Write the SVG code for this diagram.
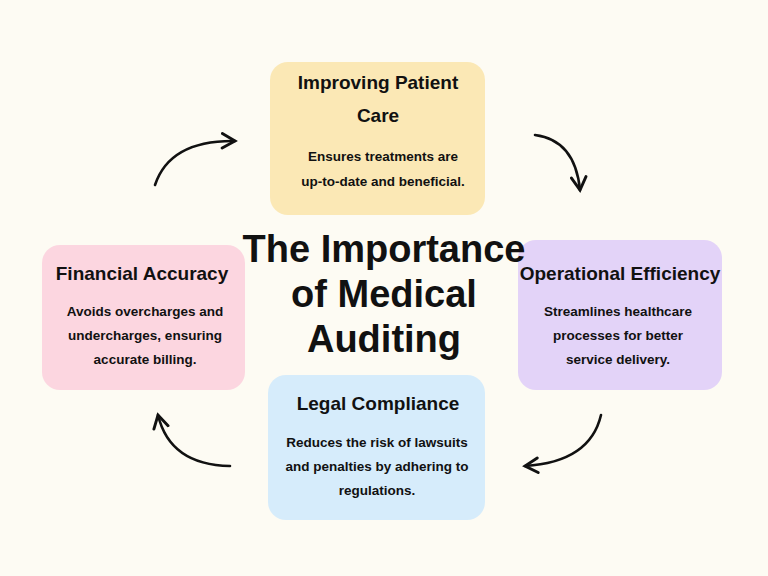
<svg xmlns="http://www.w3.org/2000/svg" width="768" height="576" viewBox="0 0 768 576">
<defs>
<marker id="ah" viewBox="0 0 10 10" refX="8" refY="5" markerWidth="7" markerHeight="7" orient="auto"><path d="M1,1 L8,5 L1,9" fill="none" stroke="#111" stroke-width="1.6" stroke-linecap="round"/></marker>
</defs>
<style>
text{font-family:"Liberation Sans",Arial,sans-serif;fill:#111;text-anchor:middle}
.h{font-size:19px;font-weight:bold}
.b{font-size:13.5px;font-weight:bold}
.t{font-size:38px;font-weight:bold}
.c{fill:none;stroke:#111;stroke-width:2.6;stroke-linecap:round}
</style>
<rect width="768" height="576" fill="#fdfbf3"/>
<g id="top"><rect x="270" y="62" width="215" height="153" rx="18" fill="#fbe8b5"/>
<text class="h" x="378" y="89">Improving Patient</text><text class="h" x="378" y="122">Care</text>
<text class="b" x="383" y="161">Ensures treatments are</text><text class="b" x="383" y="186">up-to-date and beneficial.</text></g>
<g id="left"><rect x="42" y="245" width="203" height="145" rx="18" fill="#fcd6e0"/>
<text class="h" x="142" y="280">Financial Accuracy</text>
<text class="b" x="145" y="316">Avoids overcharges and</text><text class="b" x="145" y="340">undercharges, ensuring</text><text class="b" x="145" y="364">accurate billing.</text></g>
<g id="right"><rect x="518" y="240" width="204" height="150" rx="18" fill="#e3d3f8"/>
<text class="h" x="620" y="280">Operational Efficiency</text>
<text class="b" x="618" y="316">Streamlines healthcare</text><text class="b" x="618" y="340">processes for better</text><text class="b" x="618" y="364">service delivery.</text></g>
<g id="bottom"><rect x="268" y="375" width="217" height="145" rx="18" fill="#d6ecfb"/>
<text class="h" x="378" y="410">Legal Compliance</text>
<text class="b" x="377" y="447">Reduces the risk of lawsuits</text><text class="b" x="377" y="471">and penalties by adhering to</text><text class="b" x="377" y="495">regulations.</text></g>
<g id="title"><text class="t" x="384" y="262">The Importance</text><text class="t" x="384" y="307">of Medical</text><text class="t" x="384" y="352">Auditing</text></g>
<g id="connectors">
<path class="c" d="M155,185 Q170,140 235,141" marker-end="url(#ah)"/>
<path class="c" d="M535,135 Q575,140 580,190" marker-end="url(#ah)"/>
<path class="c" d="M601,415 Q590,462 525,466" marker-end="url(#ah)"/>
<path class="c" d="M230,466 Q170,465 158,415" marker-end="url(#ah)"/>
</g>
</svg>
